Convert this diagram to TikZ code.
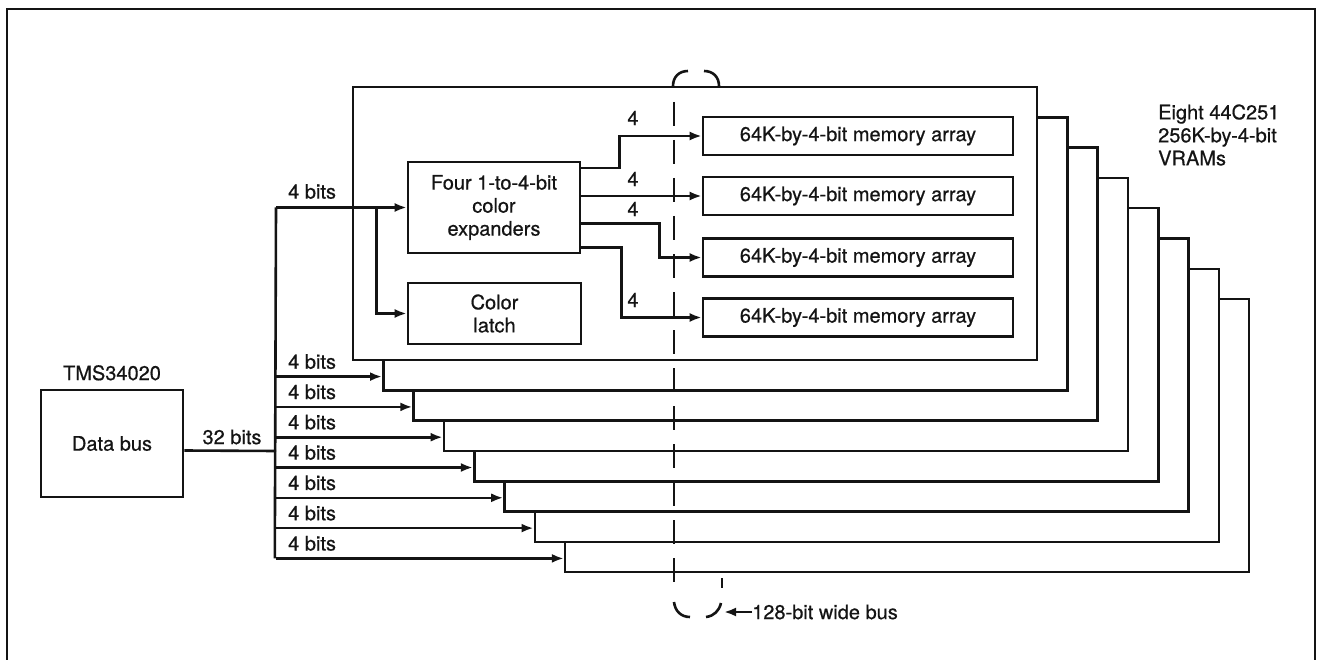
\documentclass[tikz,border=0pt]{standalone}
\usepackage{fontspec}
\setmainfont{TeX Gyre Heros}[FakeBold=0.6]
\usetikzlibrary{positioning,calc,arrows.meta}
\definecolor{inkcolor}{HTML}{141414}

\begin{document}
\begin{tikzpicture}[
  x=1pt, y=-1pt,
  font=\fontsize{20}{23}\selectfont,
  color=inkcolor,
  >={Latex[length=12pt,width=9pt]},
  block/.style={draw, line width=2.6pt, fill=white, align=center, inner sep=0pt},
  vram/.style={draw, fill=white, line width=2.6pt,
    minimum width=684pt, minimum height=273pt, inner sep=0pt},
  memarray/.style={block, minimum width=310pt, minimum height=38pt},
  sig/.style={->, line width=2.6pt},
  wire/.style={line width=2.6pt},
  bitlbl/.style={anchor=west, inner sep=0pt},
  framestyle/.style={line width=2pt},
  busdash/.style={line width=2.6pt, dash pattern=on 24pt off 14pt},
]
\useasboundingbox (0,0) rectangle (1321,660);

% --- outer frame ------------------------------------------------------
\draw[framestyle] (7,660) -- (7,9) -- (1315,9) -- (1315,660);

% --- stacked VRAMs (back to front) -------------------------------------
\foreach \k in {7,...,0} {
  \node[vram] (vram\k) at ({695+30.3*\k},{223.5+30.3*\k}) {};
}

\node[anchor=west, align=left, inner sep=0pt] (vramlbl) at (1158,135)
  {Eight 44C251\\256K-by-4-bit\\VRAMs};

% --- inside the front VRAM ----------------------------------------------
\node[block, minimum width=172pt, minimum height=91pt] (exp) at (494,207.5)
  {Four 1-to-4-bit\\color\\expanders};
\node[block, minimum width=173pt, minimum height=61pt] (latch) at (494.5,313.5)
  {Color\\latch};

\node[memarray] (mem1) at (858,136)   {64K-by-4-bit memory array};
\node[memarray] (mem2) at (858,196)   {64K-by-4-bit memory array};
\node[memarray] (mem3) at (858,257.5) {64K-by-4-bit memory array};
\node[memarray] (mem4) at (858,317.5) {64K-by-4-bit memory array};

\draw[sig] ($(exp.north east)!0.077!(exp.south east)$) -- ++(38,0) |- (mem1.west);
\draw[sig] (exp.east |- mem2.west) -- (mem2.west);
\draw[sig] ($(exp.north east)!0.67!(exp.south east)$) -- ++(78,0) |- (mem3.west);
\draw[sig] ($(exp.north east)!0.93!(exp.south east)$) -- ++(40,0) |- (mem4.west);

\node[inner sep=0pt] at (633,118) {4};
\node[inner sep=0pt] at (633,179) {4};
\node[inner sep=0pt] at (633,209) {4};
\node[inner sep=0pt] at (633,300) {4};

% --- processor and 32-bit bus ---------------------------------------------
\node[block, minimum width=142pt, minimum height=107pt] (databus) at (112,443.5) {Data bus};
\node[inner sep=0pt, above=8pt of databus] (cpu) {TMS34020};

\coordinate (bus) at (276,451);
\draw[wire] ($(databus.east)+(0,7)$) -- (bus);
\node[inner sep=0pt] (buslbl) at (232,437) {32 bits};

\coordinate (in0) at (exp.west);
\draw[wire] (in0 -| bus) -- ($(vram7.south west)+(-289,-15)$);
\draw[sig] (in0 -| bus) -- (in0);
\node[bitlbl] at ($(in0 -| bus)+(12,-16)$) {4 bits};
\draw[sig] (in0 -| latch.west) ++(-30,0) coordinate (tap) |- (latch.west);

\foreach \k in {1,...,7} {
  \coordinate (in\k) at ($(vram\k.south west)+(0,-15)$);
  \draw[sig] (in\k -| bus) -- (in\k);
  \node[bitlbl] at ($(in\k -| bus)+(12,-15)$) {4 bits};
}

% --- 128-bit wide bus -------------------------------------------------------
\draw[busdash] (674,102) -- (674,588);
\draw[wire] (673,86) .. controls (673,77) and (679,71) .. (688,71);
\draw[wire] (704,71) .. controls (713,71) and (719,77) .. (719,86);
\draw[wire] (674,602) .. controls (675,611) and (681,617) .. (690,617);
\draw[wire] (706,617) .. controls (714,616) and (719,611) .. (721,603);
\draw[wire] (722,578) -- (722,588);

\node[anchor=west, inner sep=0pt] (widelbl) at (752,612) {128-bit wide bus};
\draw[sig] (widelbl.west) -- ++(-28,0);

\end{tikzpicture}
\end{document}
